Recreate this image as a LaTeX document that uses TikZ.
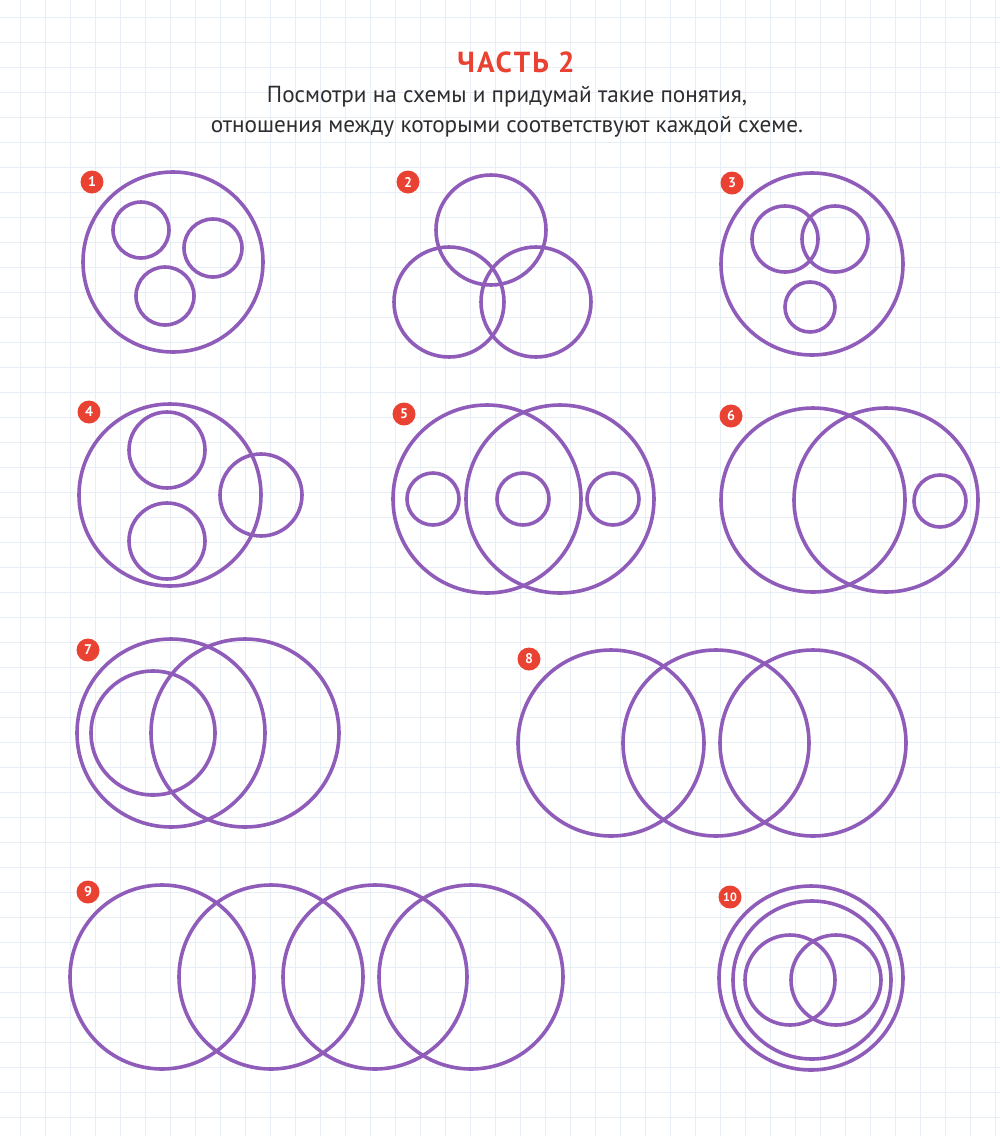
\documentclass[tikz,border=0pt]{standalone}
\usepackage{fontspec}
\setmainfont{PT Sans}

\definecolor{ringpurple}{RGB}{143,92,186}
\definecolor{badgered}{RGB}{234,66,50}
\definecolor{gridblue}{RGB}{232,238,245}
\definecolor{textgray}{RGB}{45,45,48}

\tikzset{
    ring/.style={draw=ringpurple, line width=3.6pt},
    badge/.style={circle, fill=badgered, text=white, inner sep=0pt, minimum size=23pt,
        font=\bfseries\fontsize{14}{14}\selectfont},
    gridline/.style={draw=gridblue, line width=0.8pt},
}

\begin{document}
\begin{tikzpicture}[x=1pt, y=-1pt]
        \useasboundingbox (0,0) rectangle (1000,1136);
        \fill[white] (0,0) rectangle (1000,1136);

        % squared paper
        \foreach \gx in {20,45,...,995} \draw[gridline] (\gx,0) -- (\gx,1136);
        \foreach \gy in {17,42,...,1117} \draw[gridline] (0,\gy) -- (1000,\gy);

        % heading
        \node[text=badgered, font=\bfseries\fontsize{29}{29}\selectfont\addfontfeature{LetterSpace=7}] (title) at (516,62) {ЧАСТЬ 2};
        \node[text=textgray, align=center, font=\fontsize{23.2}{30}\selectfont] (task) at (507,112)
            {Посмотри на схемы и придумай такие понятия,\\отношения между которыми соответствуют каждой схеме.};

        % scheme 1
        \node[badge] (b1) at (92,182) {1};
        \draw[ring] (173,262) circle (90);
        \draw[ring] (141,230) circle (28);
        \draw[ring] (213,248) circle (29);
        \draw[ring] (165,296) circle (29);

        % scheme 2
        \node[badge] (b2) at (408,182) {2};
        \draw[ring] (491,230) circle (55);
        \draw[ring] (449,302) circle (55);
        \draw[ring] (536,302) circle (55);

        % scheme 3
        \node[badge] (b3) at (732,183) {3};
        \draw[ring] (812,264) circle (91);
        \draw[ring] (785,239) circle (33);
        \draw[ring] (835,239) circle (33);
        \draw[ring] (810,307) circle (25);

        % scheme 4
        \node[badge] (b4) at (89,412) {4};
        \draw[ring] (170,495) circle (91);
        \draw[ring] (167,450) circle (38);
        \draw[ring] (167,541) circle (38);
        \draw[ring] (261,495) circle (41);

        % scheme 5
        \node[badge] (b5) at (404,414) {5};
        \draw[ring] (487,499) circle (94);
        \draw[ring] (560,499) circle (94);
        \draw[ring] (433,499) circle (26);
        \draw[ring] (523,499) circle (26);
        \draw[ring] (613,499) circle (26);

        % scheme 6
        \node[badge] (b6) at (731,416) {6};
        \draw[ring] (813,500) circle (92);
        \draw[ring] (886,500) circle (92);
        \draw[ring] (940,501) circle (26);

        % scheme 7
        \node[badge] (b7) at (88,650) {7};
        \draw[ring] (171,733) circle (94);
        \draw[ring] (245,733) circle (94);
        \draw[ring] (153,733) circle (62);

        % scheme 8
        \node[badge] (b8) at (529,659) {8};
        \draw[ring] (611,743) circle (93);
        \draw[ring] (716,743) circle (93);
        \draw[ring] (813,743) circle (93);

        % scheme 9
        \node[badge] (b9) at (88,892) {9};
        \draw[ring] (162,977) circle (92);
        \draw[ring] (271,977) circle (92);
        \draw[ring] (375,977) circle (92);
        \draw[ring] (471,977) circle (92);

        % scheme 10
        \node[badge, font=\bfseries\fontsize{12}{12}\selectfont] (b10) at (730,897) {10};
        \draw[ring] (811,978) circle (92);
        \draw[ring] (812,980) circle (79);
        \draw[ring] (790,980) circle (45);
        \draw[ring] (836,980) circle (45);
\end{tikzpicture}
\end{document}
